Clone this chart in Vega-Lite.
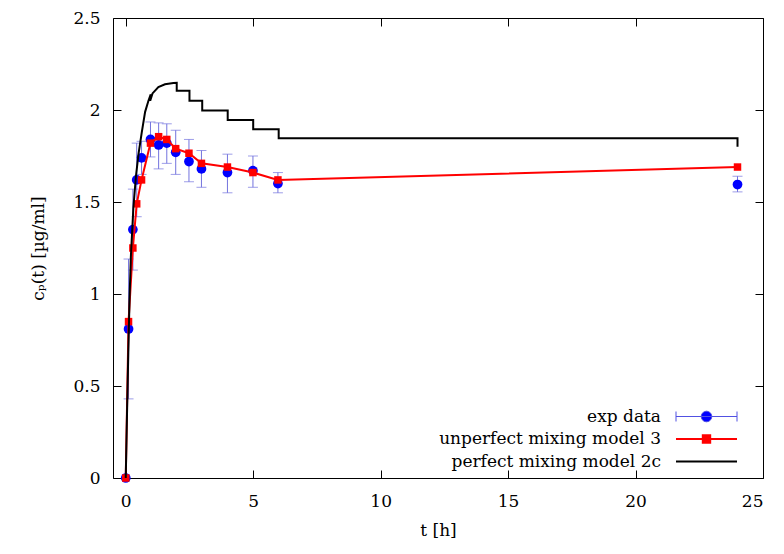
{
  "$schema": "https://vega.github.io/schema/vega-lite/v6.json",
  "width": 650,
  "height": 460,
  "autosize": {"type": "none"},
  "padding": {"left": 113, "top": 18, "right": 21, "bottom": 76},
  "background": "#ffffff",
  "config": {
    "font": "DejaVu Serif",
    "view": {"stroke": "#000000", "strokeWidth": 1},
    "axis": {
      "grid": false,
      "domain": false,
      "tickColor": "#000000",
      "tickSize": -8,
      "tickWidth": 1,
      "labelFont": "DejaVu Serif",
      "labelFontSize": 17,
      "labelColor": "#000000",
      "labelPadding": 21,
      "titleFont": "DejaVu Serif",
      "titleFontSize": 17,
      "titleFontWeight": "normal",
      "titleColor": "#000000"
    }
  },
  "datasets": {
    "exp": [
      {"t": 0, "y": 0, "lo": 0, "hi": 0},
      {"t": 0.11, "y": 0.81, "lo": 0.43, "hi": 1.19},
      {"t": 0.28, "y": 1.35, "lo": 1.13, "hi": 1.57},
      {"t": 0.43, "y": 1.62, "lo": 1.42, "hi": 1.82},
      {"t": 0.62, "y": 1.74, "lo": 1.65, "hi": 1.83},
      {"t": 0.97, "y": 1.84, "lo": 1.745, "hi": 1.935},
      {"t": 1.29, "y": 1.81, "lo": 1.68, "hi": 1.93},
      {"t": 1.61, "y": 1.82, "lo": 1.71, "hi": 1.925},
      {"t": 1.96, "y": 1.77, "lo": 1.65, "hi": 1.89},
      {"t": 2.48, "y": 1.72, "lo": 1.61, "hi": 1.84},
      {"t": 2.97, "y": 1.68, "lo": 1.58, "hi": 1.78},
      {"t": 3.99, "y": 1.66, "lo": 1.55, "hi": 1.76},
      {"t": 4.99, "y": 1.67, "lo": 1.58, "hi": 1.75},
      {"t": 5.97, "y": 1.6, "lo": 1.55, "hi": 1.66},
      {"t": 24, "y": 1.595, "lo": 1.555, "hi": 1.64}
    ],
    "model3": [
      {"t": 0, "y": 0},
      {"t": 0.11, "y": 0.85},
      {"t": 0.28, "y": 1.25},
      {"t": 0.43, "y": 1.49},
      {"t": 0.62, "y": 1.62},
      {"t": 0.97, "y": 1.82},
      {"t": 1.29, "y": 1.855},
      {"t": 1.61, "y": 1.84},
      {"t": 1.96, "y": 1.79},
      {"t": 2.48, "y": 1.765},
      {"t": 2.97, "y": 1.71},
      {"t": 3.99, "y": 1.69},
      {"t": 4.99, "y": 1.66},
      {"t": 5.97, "y": 1.62},
      {"t": 24, "y": 1.69}
    ],
    "model2c": [
      {"i": 0, "t": 0, "y": 0},
      {"i": 1, "t": 0.05, "y": 0.35},
      {"i": 2, "t": 0.1, "y": 0.68},
      {"i": 3, "t": 0.15, "y": 0.98},
      {"i": 4, "t": 0.2, "y": 1.2},
      {"i": 5, "t": 0.3, "y": 1.47},
      {"i": 6, "t": 0.4, "y": 1.64},
      {"i": 7, "t": 0.5, "y": 1.76},
      {"i": 8, "t": 0.63, "y": 1.88},
      {"i": 9, "t": 0.76, "y": 1.99},
      {"i": 10, "t": 0.89, "y": 2.05},
      {"i": 11, "t": 0.98, "y": 2.085},
      {"i": 12, "t": 0.96, "y": 2.05},
      {"i": 13, "t": 1.05, "y": 2.09},
      {"i": 14, "t": 1.28, "y": 2.125},
      {"i": 15, "t": 1.54, "y": 2.14},
      {"i": 16, "t": 1.87, "y": 2.147},
      {"i": 17, "t": 2.0, "y": 2.148},
      {"i": 18, "t": 2.0, "y": 2.105},
      {"i": 19, "t": 2.5, "y": 2.105},
      {"i": 20, "t": 2.5, "y": 2.05},
      {"i": 21, "t": 3.0, "y": 2.05},
      {"i": 22, "t": 3.0, "y": 1.997},
      {"i": 23, "t": 4.0, "y": 1.997},
      {"i": 24, "t": 4.0, "y": 1.946},
      {"i": 25, "t": 5.0, "y": 1.946},
      {"i": 26, "t": 5.0, "y": 1.895},
      {"i": 27, "t": 6.0, "y": 1.895},
      {"i": 28, "t": 6.0, "y": 1.846},
      {"i": 29, "t": 24, "y": 1.846},
      {"i": 30, "t": 24, "y": 1.8}
    ],
    "series": [
      {"s": "exp data"},
      {"s": "unperfect mixing model 3"},
      {"s": "perfect mixing model 2c"}
    ]
  },
  "layer": [
    {
      "data": {"name": "exp"},
      "transform": [{"filter": "datum.t > 0"}],
      "mark": {"type": "rule", "color": "#7373de", "strokeWidth": 1},
      "encoding": {
        "x": {
          "field": "t", "type": "quantitative",
          "scale": {"domain": [-0.5, 25], "nice": false, "zero": false},
          "axis": {"orient": "bottom", "values": [0, 5, 10, 15, 20, 25], "title": "t [h]", "titlePadding": 13, "labelPadding": 23}
        },
        "y": {
          "field": "lo", "type": "quantitative",
          "scale": {"domain": [0, 2.5], "nice": false, "zero": false},
          "axis": {"orient": "left", "values": [0, 0.5, 1, 1.5, 2, 2.5], "format": "~g", "title": "cₚ(t) [µg/ml]", "titlePadding": 25}
        },
        "y2": {"field": "hi"}
      }
    },
    {
      "data": {"name": "exp"},
      "transform": [{"filter": "datum.t > 0"}],
      "mark": {"type": "tick", "orient": "horizontal", "color": "#7373de", "size": 10, "thickness": 1},
      "encoding": {
        "x": {"field": "t", "type": "quantitative", "axis": null},
        "y": {"field": "lo", "type": "quantitative", "axis": null}
      }
    },
    {
      "data": {"name": "exp"},
      "transform": [{"filter": "datum.t > 0"}],
      "mark": {"type": "tick", "orient": "horizontal", "color": "#7373de", "size": 10, "thickness": 1},
      "encoding": {
        "x": {"field": "t", "type": "quantitative", "axis": null},
        "y": {"field": "hi", "type": "quantitative", "axis": null}
      }
    },
    {
      "data": {"name": "exp"},
      "mark": {"type": "point", "filled": true, "shape": "circle", "size": 95, "color": "#0000ff", "opacity": 1},
      "encoding": {
        "x": {"field": "t", "type": "quantitative", "axis": null},
        "y": {"field": "y", "type": "quantitative", "axis": null}
      }
    },
    {
      "data": {"name": "model3"},
      "mark": {"type": "line", "color": "#ff0000", "strokeWidth": 2,
               "point": {"filled": true, "shape": "square", "size": 56, "color": "#ff0000", "opacity": 1}},
      "encoding": {
        "x": {"field": "t", "type": "quantitative", "axis": null},
        "y": {"field": "y", "type": "quantitative", "axis": null}
      }
    },
    {
      "data": {"name": "model2c"},
      "mark": {"type": "line", "color": "#000000", "strokeWidth": 2},
      "encoding": {
        "x": {"field": "t", "type": "quantitative",
              "axis": {"orient": "top", "values": [0, 5, 10, 15, 20, 25], "labels": false, "title": null}},
        "y": {"field": "y", "type": "quantitative",
              "axis": {"orient": "right", "values": [0, 0.5, 1, 1.5, 2, 2.5], "labels": false, "title": null}},
        "order": {"field": "i", "type": "quantitative"}
      }
    },
    {
      "data": {"name": "series"},
      "mark": {"type": "point", "filled": true, "opacity": 0},
      "encoding": {
        "color": {
          "field": "s", "type": "nominal",
          "scale": {"domain": ["exp data", "unperfect mixing model 3", "perfect mixing model 2c"],
                    "range": ["#0000ff", "#ff0000", "#000000"]},
          "legend": {
            "title": null,
            "orient": "none",
            "legendX": 585,
            "legendY": 390,
            "padding": 0,
            "rowPadding": 4.5,
            "symbolSize": 100,
            "symbolOpacity": 1,
            "symbolStrokeWidth": 2,
            "labelAlign": "right",
            "labelOffset": -54,
            "labelFont": "DejaVu Serif",
            "labelFontSize": 17,
            "labelColor": "#000000",
            "labelLimit": 0,
            "encode": {
              "symbols": {
                "update": {
                  "strokeWidth": {"signal": "datum.value === 'exp data' ? 1 : 2"},
                  "stroke": {"signal": "datum.value === 'exp data' ? '#5151e2' : (datum.value === 'unperfect mixing model 3' ? '#ff0000' : '#000000')"},
                  "fill": {"signal": "datum.value === 'exp data' ? '#0000ff' : (datum.value === 'unperfect mixing model 3' ? '#ff0000' : '#000000')"},
                  "opacity": {"value": 1}
                }
              }
            }
          }
        },
        "shape": {
          "field": "s", "type": "nominal",
          "scale": {"domain": ["exp data", "unperfect mixing model 3", "perfect mixing model 2c"],
                    "range": [
                      "M-6.1,-1L-6.1,1M-6.1,0L6.1,0M6.1,-1L6.1,1M-1.06,0A1.06,1.06,0,1,1,1.06,0A1.06,1.06,0,1,1,-1.06,0Z",
                      "M-6.1,0L6.1,0M-0.74,-0.74L0.74,-0.74L0.74,0.74L-0.74,0.74Z",
                      "M-6.1,0L6.1,0"
                    ]}
        }
      }
    }
  ],
  "resolve": {"axis": {"x": "independent", "y": "independent"}}
}
